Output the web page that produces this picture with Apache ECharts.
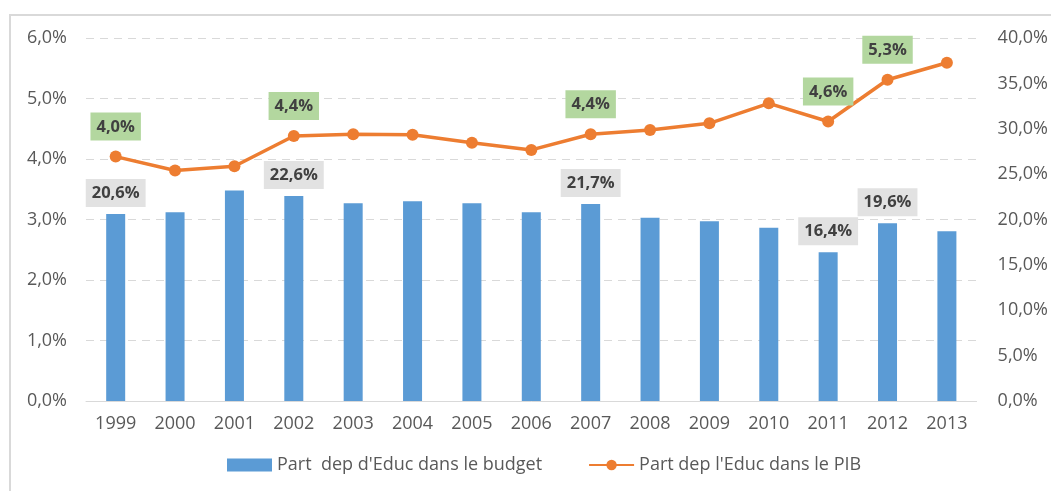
<!DOCTYPE html>
<html>
<head>
<meta charset="utf-8">
<script src="https://cdn.jsdelivr.net/npm/echarts@6/dist/echarts.min.js"></script>
<style>
html,body{margin:0;padding:0;background:#fff;}
#main{width:1051px;height:491px;}
</style>
</head>
<body>
<div id="main"></div>
<script>
const years = ['1999','2000','2001','2002','2003','2004','2005','2006','2007','2008','2009','2010','2011','2012','2013'];
const budgetShare = [20.6, 20.8, 23.2, 22.6, 21.8, 22.0, 21.8, 20.8, 21.7, 20.2, 19.8, 19.1, 16.4, 19.6, 18.7];
const pibShare = [4.04, 3.81, 3.88, 4.38, 4.41, 4.40, 4.27, 4.15, 4.41, 4.48, 4.59, 4.92, 4.62, 5.31, 5.59];
const labeledIdx = [0, 3, 8, 12, 13];
const leftTicks = {min: 0, max: 6, interval: 1};
const rightTicks = {min: 0, max: 40, interval: 5};
const seriesNames = ["Part  dep d'Educ dans le budget", "Part dep l'Educ dans le PIB"];

const fmt = v => v.toFixed(1).replace('.', ',') + '%';
const FONT = 'Open Sans';
const TXT = '#595959';

const barData = budgetShare.map((v, i) => labeledIdx.includes(i) ? {
  value: v,
  label: {show: true, position: 'top', distance: 7, formatter: p => fmt(p.value),
    backgroundColor: '#e2e2e2', padding: [6, 6, 5, 6], color: '#404040',
    fontFamily: FONT, fontWeight: 'bold', fontSize: 16.5}
} : v);
const lineData = pibShare.map((v, i) => labeledIdx.includes(i) ? {
  value: v,
  label: {show: true, position: 'top', distance: 10, formatter: p => fmt(p.value),
    backgroundColor: '#b3d79f', padding: [6, 6, 5, 6], color: '#404040',
    fontFamily: FONT, fontWeight: 'bold', fontSize: 16.5}
} : v);

const chart = echarts.init(document.getElementById('main'), null, {renderer: 'canvas'});
chart.setOption({
  backgroundColor: '#fff',
  animation: false,
  textStyle: {fontFamily: FONT},
  graphic: [{
    type: 'rect', shape: {x: 10, y: 15, width: 1200, height: 600},
    style: {fill: 'none', stroke: '#d9d9d9', lineWidth: 2}, silent: true, z: -10
  }],
  grid: {left: 86, right: 74, top: 38, bottom: 90},
  legend: {
    left: 222, top: 451, itemGap: 46, itemWidth: 45, itemHeight: 13,
    textStyle: {color: TXT, fontSize: 18, fontFamily: FONT},
    data: [{name: seriesNames[0], icon: 'rect'}, {name: seriesNames[1]}]
  },
  xAxis: {
    type: 'category', data: years,
    axisLine: {lineStyle: {color: '#d9d9d9', width: 1}},
    axisTick: {show: false},
    axisLabel: {color: TXT, fontSize: 18, fontFamily: FONT, margin: 14}
  },
  yAxis: [{
    type: 'value', min: leftTicks.min, max: leftTicks.max, interval: leftTicks.interval,
    axisLine: {show: false}, axisTick: {show: false},
    axisLabel: {color: TXT, fontSize: 18, fontFamily: FONT, margin: 19, formatter: v => fmt(v)},
    splitLine: {lineStyle: {color: '#d9d9d9', type: [8, 6], width: 1}}
  }, {
    type: 'value', position: 'right', min: rightTicks.min, max: rightTicks.max, interval: rightTicks.interval,
    axisLine: {show: false}, axisTick: {show: false},
    axisLabel: {color: TXT, fontSize: 18, fontFamily: FONT, margin: 21, formatter: v => fmt(v)},
    splitLine: {show: false}
  }],
  series: [{
    name: seriesNames[0], type: 'bar', yAxisIndex: 1, data: barData,
    barWidth: 19, itemStyle: {color: '#5b9bd5'}, z: 2
  }, {
    name: seriesNames[1], type: 'line', yAxisIndex: 0, data: lineData,
    symbol: 'circle', symbolSize: 12, showSymbol: true,
    lineStyle: {color: '#ed7d31', width: 3.5},
    itemStyle: {color: '#ed7d31'}, z: 3
  }]
});
</script>
</body>
</html>
